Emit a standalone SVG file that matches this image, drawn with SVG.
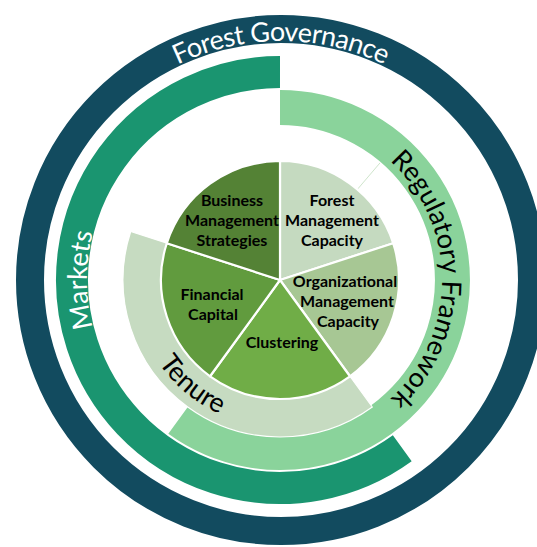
<svg xmlns="http://www.w3.org/2000/svg" width="537" height="547" viewBox="0 0 537 547">
  <style>
    .ring-label { font-family: Lato, "Open Sans", "Liberation Sans", sans-serif; font-size: 27px; }
    .slice-label { font-family: Lato, "Open Sans", "Liberation Sans", sans-serif; font-weight: bold; font-size: 16px; fill: #000; text-anchor: middle; }
    .slice { stroke: #fff; stroke-width: 2.2; stroke-linejoin: round; }
  </style>
  <defs>
    <!-- text baselines, all centred on the hub at (280,280) -->
    <path id="arc-governance" d="M 74 160.5 A 239 239 0 0 1 488 160.5"/>
    <path id="arc-markets" d="M 214 461.4 A 193 193 0 0 1 214 98.6"/>
    <path id="arc-regulatory" d="M 280 118 A 162 162 0 0 1 280 442"/>
    <path id="arc-tenure" d="M 141.9 229.7 A 147 147 0 0 0 353.5 407.3"/>
  </defs>

  <rect width="537" height="547" fill="#fff"/>

  <!-- outer ring: Forest Governance -->
  <g id="forest-governance">
    <circle cx="281" cy="280" r="251" fill="none" stroke="#124b5f" stroke-width="28"/>
    <text class="ring-label" fill="#fff"><textPath href="#arc-governance" startOffset="50%" text-anchor="middle" textLength="214" lengthAdjust="spacing">Forest Governance</textPath></text>
  </g>

  <!-- Markets band: 144° to 360° clockwise -->
  <g id="markets">
    <path d="M 402.26 448.27 A 208 208 0 1 1 280 72" fill="none" stroke="#1a9570" stroke-width="32"/>
    <text class="ring-label" fill="#fff"><textPath href="#arc-markets" startOffset="50%" text-anchor="middle">Markets</textPath></text>
  </g>

  <!-- Regulatory Framework band: 0° to 216° clockwise -->
  <g id="regulatory-framework">
    <path d="M 280 107.5 A 172.5 172.5 0 1 1 178.6 419.6" fill="none" stroke="#8ad39b" stroke-width="35"/>
    <text class="ring-label" fill="#000"><textPath href="#arc-regulatory" startOffset="50%" text-anchor="middle">Regulatory Framework</textPath></text>
  </g>

  <!-- Tenure band: 144° to 288° -->
  <g id="tenure">
    <path d="M 372.3 407 A 157 157 0 0 1 130.7 231.5 L 167.8 243.5 A 118 118 0 0 0 349.4 375.5 Z" fill="#c6dbc1" stroke="#fff" stroke-width="1.2"/>
    <text class="ring-label" fill="#000"><textPath href="#arc-tenure" startOffset="50%" text-anchor="middle">Tenure</textPath></text>
  </g>

  <g id="guides">
    <line x1="357.9" y1="188.8" x2="380" y2="162.9" stroke="#cfe5cc" stroke-width="1"/>
  </g>

  <!-- centre pie: five 72° slices -->
  <g id="forest-management-capacity">
    <path class="slice" d="M 280 280 L 280 161 A 119 119 0 0 1 393.18 243.23 Z" fill="#c5dac0"/>
    <text class="slice-label" x="332" y="206">Forest</text>
    <text class="slice-label" x="332" y="226">Management</text>
    <text class="slice-label" x="332" y="246">Capacity</text>
  </g>
  <g id="organizational-management-capacity">
    <path class="slice" d="M 280 280 L 393.18 243.23 A 119 119 0 0 1 349.95 376.27 Z" fill="#a7c794"/>
    <text class="slice-label" x="345" y="287" font-size="15.5">Organizational</text>
    <text class="slice-label" x="347" y="307">Management</text>
    <text class="slice-label" x="348" y="327">Capacity</text>
  </g>
  <g id="clustering">
    <path class="slice" d="M 280 280 L 349.95 376.27 A 119 119 0 0 1 210.05 376.27 Z" fill="#70ad47"/>
    <text class="slice-label" x="282" y="348">Clustering</text>
  </g>
  <g id="financial-capital">
    <path class="slice" d="M 280 280 L 210.05 376.27 A 119 119 0 0 1 166.82 243.23 Z" fill="#619b3e"/>
    <text class="slice-label" x="212" y="300">Financial</text>
    <text class="slice-label" x="213" y="320">Capital</text>
  </g>
  <g id="business-management-strategies">
    <path class="slice" d="M 280 280 L 166.82 243.23 A 119 119 0 0 1 280 161 Z" fill="#548235"/>
    <text class="slice-label" x="232" y="206">Business</text>
    <text class="slice-label" x="232" y="226">Management</text>
    <text class="slice-label" x="232" y="246">Strategies</text>
  </g>
</svg>
